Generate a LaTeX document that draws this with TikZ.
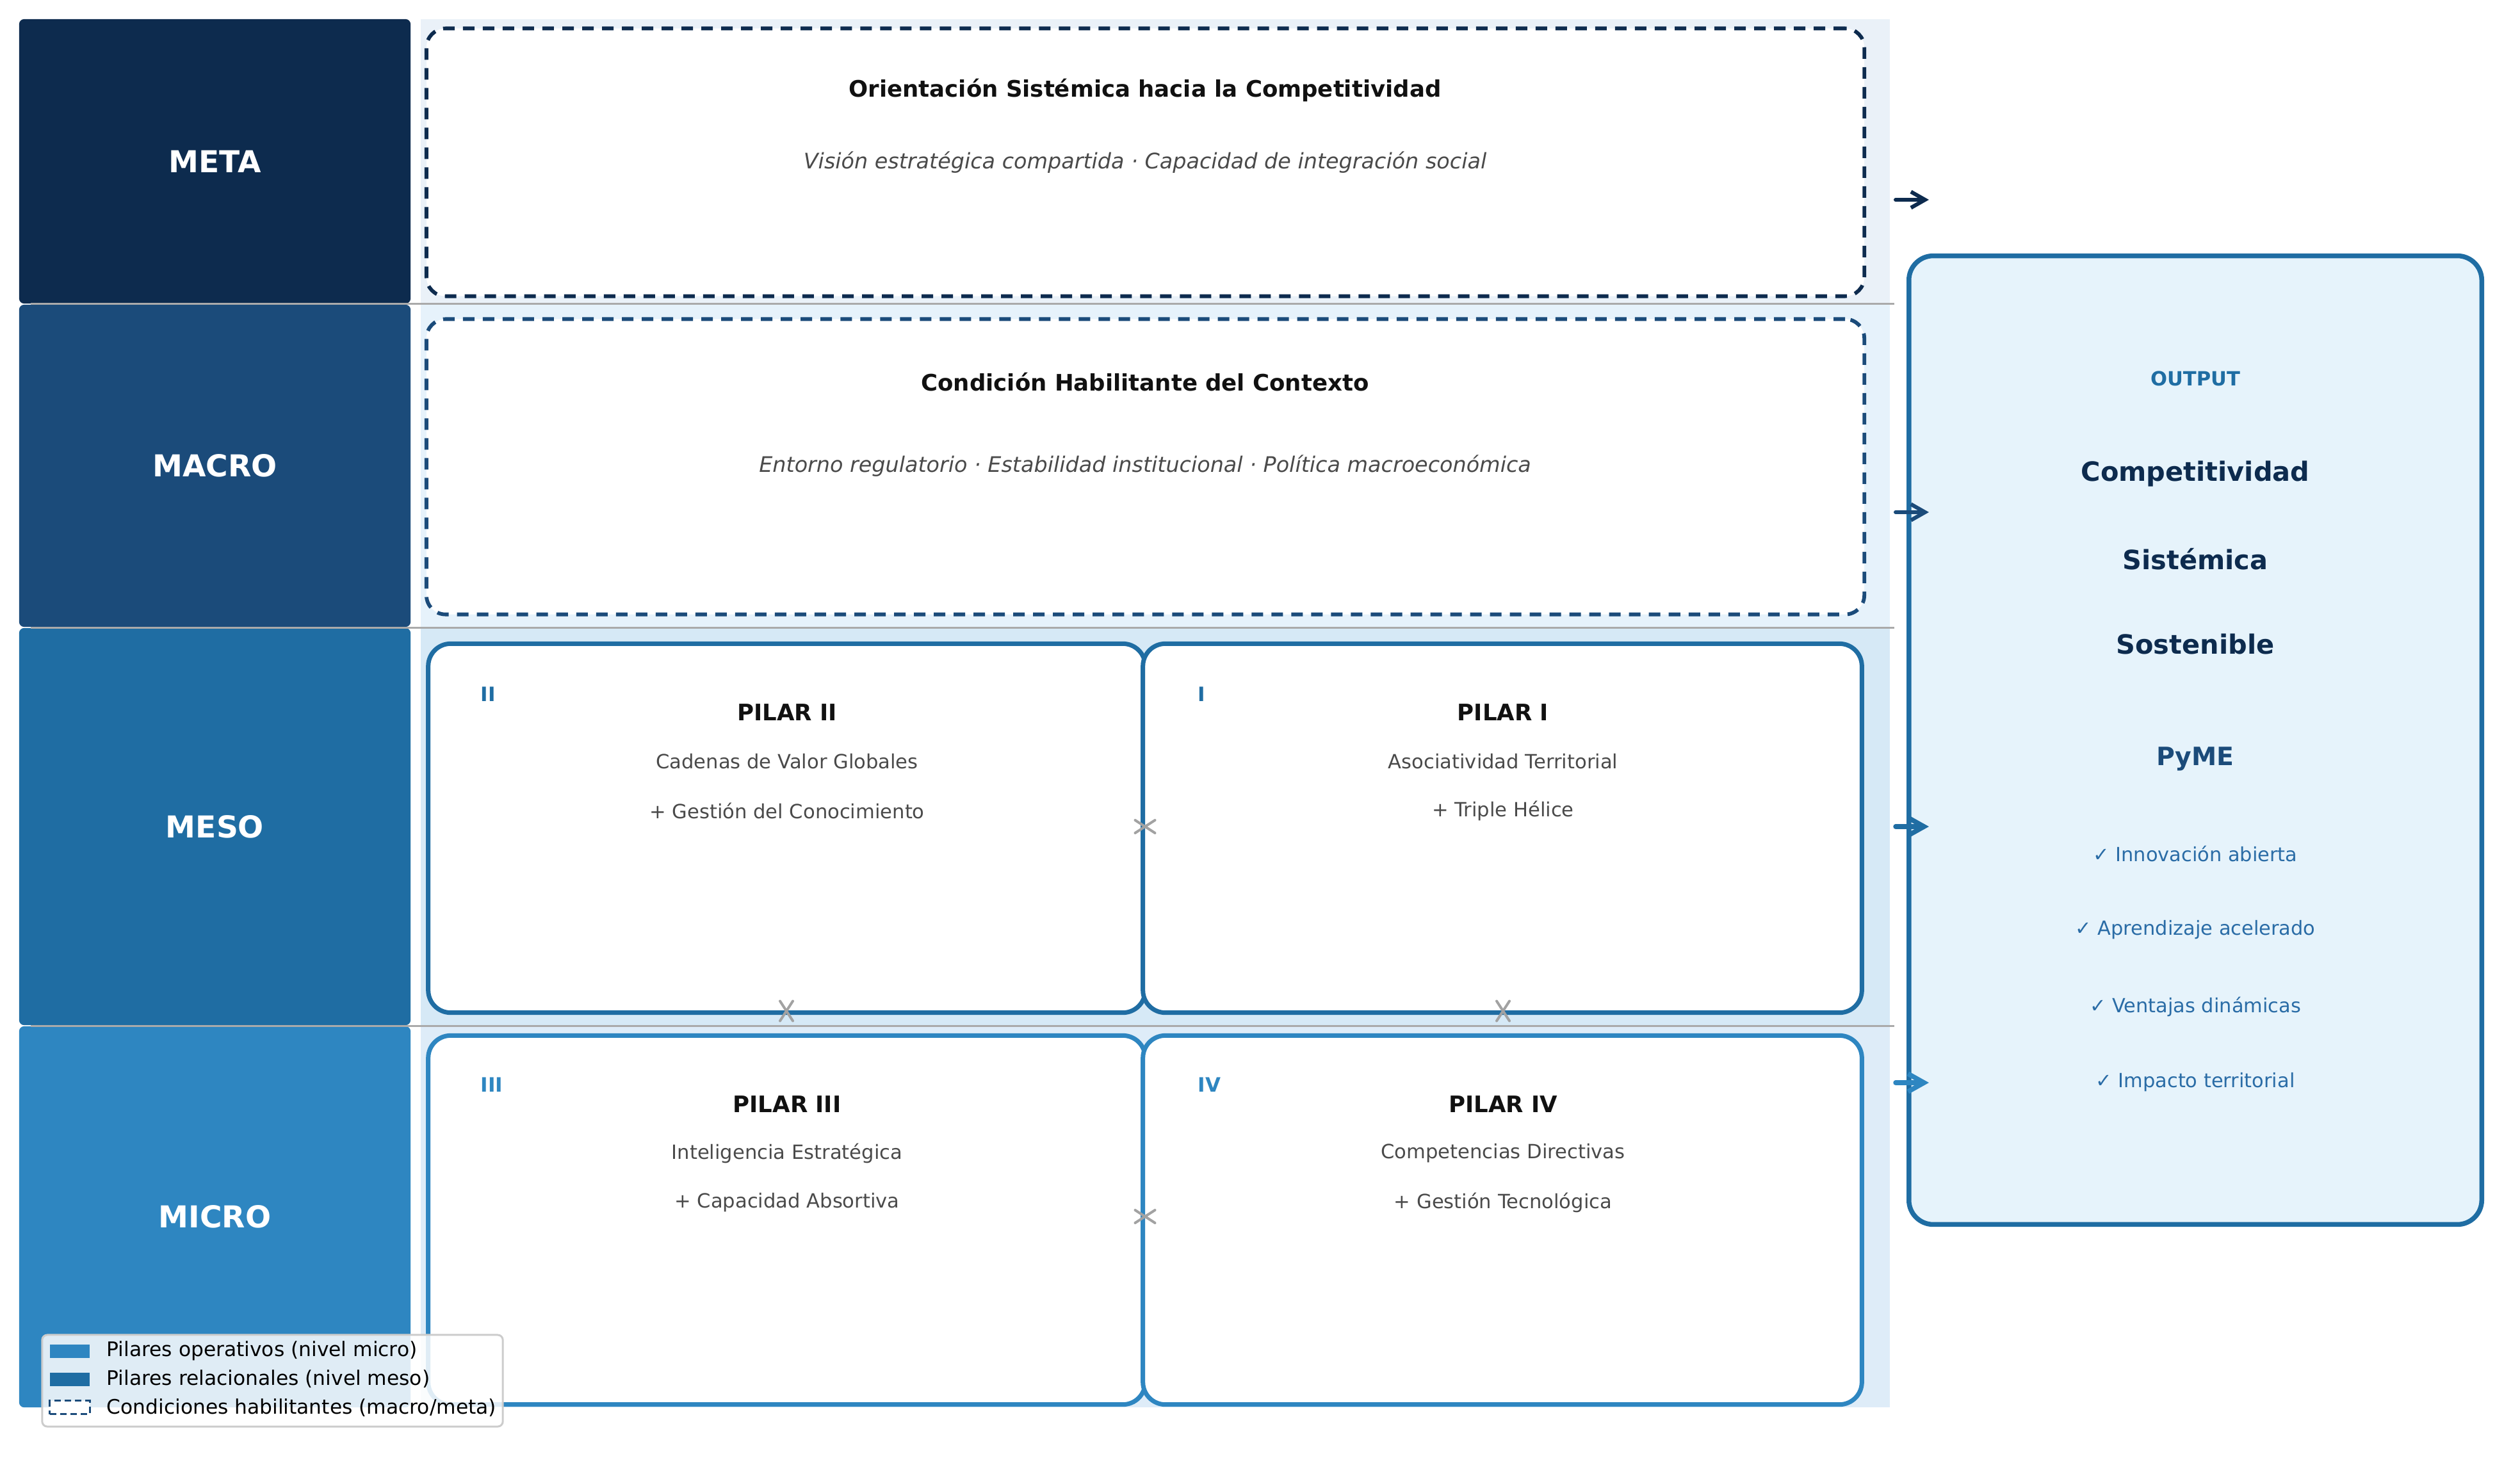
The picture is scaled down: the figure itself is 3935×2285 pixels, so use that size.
\documentclass[tikz,border=0pt]{standalone}
\usepackage{fontspec}
\setmainfont{DejaVu Sans}[ItalicFont={DejaVu Sans Oblique},BoldFont={DejaVu Sans Bold},BoldItalicFont={DejaVu Sans Bold Oblique}]
\usetikzlibrary{arrows.meta,shapes.misc}
\definecolor{cMeta}{HTML}{0D2B4E}
\definecolor{cMacro}{HTML}{1B4B7A}
\definecolor{cMeso}{HTML}{1F6DA3}
\definecolor{cMicro}{HTML}{2E86C1}
\definecolor{pMeta}{HTML}{EAF1F8}
\definecolor{pMacro}{HTML}{E6F2FB}
\definecolor{pMeso}{HTML}{D6E9F6}
\definecolor{pMicro}{HTML}{DEECF8}
\definecolor{cOut}{HTML}{E6F3FB}
\definecolor{cTitle}{HTML}{111111}
\definecolor{cSub}{HTML}{4A4A4A}
\definecolor{cSep}{HTML}{AAAAAA}
\definecolor{cX}{HTML}{A2A2A2}
\definecolor{cCheck}{HTML}{2A6CA6}
\definecolor{cLeg}{HTML}{CCCCCC}
\begin{document}
\begin{tikzpicture}[x=0.01cm,y=-0.01cm,
  levelbox/.style={rounded corners=0.08cm, inner sep=0, text=white,
    font=\fontsize{13.4pt}{16pt}\selectfont\bfseries},
  condbox/.style={draw, fill=white, line width=0.058cm, dash pattern=on 0.18cm off 0.13cm,
    rounded corners=0.3cm, inner sep=0},
  pilarbox/.style={draw, fill=white, line width=0.07cm, rounded corners=0.35cm, inner sep=0},
  ttl/.style={font=\fontsize{10.1pt}{12pt}\selectfont\bfseries, text=cTitle, inner sep=0},
  subt/.style={font=\fontsize{9.5pt}{11pt}\selectfont\itshape, text=cSub, inner sep=0},
  pline/.style={font=\fontsize{8.7pt}{10pt}\selectfont, text=cSub, inner sep=0},
  numl/.style={anchor=west, font=\fontsize{8.8pt}{10pt}\selectfont\bfseries, inner sep=0},
  sepline/.style={draw=cSep, line width=0.03cm},
  xmark/.style={cross out, draw=cX, line width=0.04cm, line cap=round, inner sep=0},
  outarrow/.style={line cap=round, line join=round, -{Straight Barb[length=0.22cm,width=0.25cm]}},
  chk/.style={font=\fontsize{8.65pt}{10pt}\selectfont, text=cCheck, inner sep=0},
  big/.style={font=\fontsize{11.8pt}{14pt}\selectfont\bfseries, text=cMeta, inner sep=0},
  legt/.style={anchor=west, font=\fontsize{8.9pt}{10pt}\selectfont, text=black, inner sep=0},
  legp/.style={minimum width=0.62cm, minimum height=0.21cm, inner sep=0}
]
\useasboundingbox (0,0) rectangle (3935,2285);

% row panels
\fill[pMeta] (657,30) rectangle (2951,474);
\fill[pMacro] (657,474) rectangle (2951,980);
\fill[pMeso] (657,980) rectangle (2951,1602);
\fill[pMicro] (657,1602) rectangle (2951,2198);

% level boxes
\node[levelbox, fill=cMeta, minimum width=6.11cm, minimum height=4.44cm] (meta) at (335.5,252) {META};
\node[levelbox, fill=cMacro, minimum width=6.11cm, minimum height=5.03cm] (macro) at (335.5,727.5) {MACRO};
\node[levelbox, fill=cMeso, minimum width=6.11cm, minimum height=6.20cm] (meso) at (335.5,1291) {MESO};
\node[levelbox, fill=cMicro, minimum width=6.11cm, minimum height=5.95cm] (micro) at (335.5,1900.5) {MICRO};

% separators
\draw[sepline] (48,474) -- (2958,474);
\draw[sepline] (48,980) -- (2958,980);
\draw[sepline] (48,1602) -- (2958,1602);

% enabling conditions
\node[condbox, draw=cMeta, minimum width=22.44cm, minimum height=4.18cm] (metabox) at (1788.5,253.5) {};
\node[ttl] (metatitle) at (1788,141) {Orientación Sistémica hacia la Competitividad};
\node[subt] (metasub) at (1788,254) {Visión estratégica compartida · Capacidad de integración social};

\node[condbox, draw=cMacro, minimum width=22.44cm, minimum height=4.61cm] (macrobox) at (1788.5,729) {};
\node[ttl] (macrotitle) at (1788,597) {Condición Habilitante del Contexto};
\node[subt] (macrosub) at (1788,728) {Entorno regulatorio · Estabilidad institucional · Política macroeconómica};

% pillars
\node[pilarbox, draw=cMeso, minimum width=11.19cm, minimum height=5.76cm] (p2) at (1228.5,1293.5) {};
\node[pilarbox, draw=cMeso, minimum width=11.22cm, minimum height=5.76cm] (p1) at (2346,1293.5) {};
\node[pilarbox, draw=cMicro, minimum width=11.19cm, minimum height=5.76cm] (p3) at (1228.5,1905.5) {};
\node[pilarbox, draw=cMicro, minimum width=11.22cm, minimum height=5.76cm] (p4) at (2346,1905.5) {};

\node[numl, text=cMeso] (n2) at (750,1084) {II};
\node[numl, text=cMeso] (n1) at (1870,1084) {I};
\node[numl, text=cMicro] (n3) at (750,1694) {III};
\node[numl, text=cMicro] (n4) at (1870,1694) {IV};

\node[ttl] (t2) at (1229,1113) {PILAR II};
\node[pline] (a2) at (1229,1189) {Cadenas de Valor Globales};
\node[pline] (b2) at (1229,1266) {+ Gestión del Conocimiento};

\node[ttl] (t1) at (2347,1113) {PILAR I};
\node[pline] (a1) at (2347,1189) {Asociatividad Territorial};
\node[pline] (b1) at (2347,1266) {+ Triple Hélice};

\node[ttl] (t3) at (1229,1725) {PILAR III};
\node[pline] (a3) at (1229,1801) {Inteligencia Estratégica};
\node[pline] (b3) at (1229,1878) {+ Capacidad Absortiva};

\node[ttl] (t4) at (2347,1725) {PILAR IV};
\node[pline] (a4) at (2347,1801) {Competencias Directivas};
\node[pline] (b4) at (2347,1878) {+ Gestión Tecnológica};

% link markers between pillars
\node[xmark, minimum width=0.27cm, minimum height=0.16cm] (x21) at (1788,1291) {};
\node[xmark, minimum width=0.27cm, minimum height=0.16cm] (x34) at (1788,1900) {};
\node[xmark, minimum width=0.16cm, minimum height=0.27cm] (x23) at (1228,1579) {};
\node[xmark, minimum width=0.16cm, minimum height=0.27cm] (x14) at (2347,1579) {};

% output box
\node[draw=cMeso, fill=cOut, line width=0.075cm, rounded corners=0.38cm, inner sep=0,
      minimum width=8.94cm, minimum height=15.12cm] (out) at (3428,1156) {};
\node[font=\fontsize{8.7pt}{10pt}\selectfont\bfseries, text=cMeso, inner sep=0] (outlbl) at (3428,591) {OUTPUT};
\node[big] (o1) at (3428,740) {Competitividad};
\node[big] (o2) at (3428,873) {Sistémica};
\node[big] (o3) at (3428,1006) {Sostenible};
\node[font=\fontsize{11.2pt}{13pt}\selectfont\bfseries, text=cMacro, inner sep=0] (pyme) at (3428,1185) {PyME};
\node[chk] (c1) at (3428,1334) {✓ Innovación abierta};
\node[chk] (c2) at (3428,1452) {✓ Aprendizaje acelerado};
\node[chk] (c3) at (3428,1572) {✓ Ventajas dinámicas};
\node[chk] (c4) at (3428,1690) {✓ Impacto territorial};

% arrows towards output
\coordinate (s1) at (2960,312);  \coordinate (e1) at (3012,312);
\coordinate (s2) at (2960,800);  \coordinate (e2) at (3012,800);
\coordinate (s3) at (2960,1291); \coordinate (e3) at (3012,1291);
\coordinate (s4) at (2960,1691); \coordinate (e4) at (3012,1691);
\draw[outarrow, draw=cMeta, line width=0.06cm] (s1) -- (e1);
\draw[outarrow, draw=cMacro, line width=0.06cm] (s2) -- (e2);
\draw[outarrow, draw=cMeso, line width=0.075cm, -{Straight Barb[length=0.25cm,width=0.28cm]}] (s3) -- (e3);
\draw[outarrow, draw=cMicro, line width=0.075cm, -{Straight Barb[length=0.25cm,width=0.28cm]}] (s4) -- (e4);

% legend
\node[draw=cLeg, fill=white, fill opacity=0.85, line width=0.03cm, rounded corners=0.08cm,
      minimum width=7.19cm, minimum height=1.43cm, inner sep=0] (legend) at (425.5,2156.5) {};
\node[legp, fill=cMicro] (lp1) at (109,2110) {};
\node[legp, fill=cMeso] (lp2) at (109,2154) {};
\node[legp, fill=white, draw=cMacro, line width=0.03cm, dash pattern=on 0.1cm off 0.06cm] (lp3) at (109,2198) {};
\node[legt] (lt1) at (166,2110) {Pilares operativos (nivel micro)};
\node[legt] (lt2) at (166,2154) {Pilares relacionales (nivel meso)};
\node[legt] (lt3) at (166,2199) {Condiciones habilitantes (macro/meta)};
\end{tikzpicture}
\end{document}
